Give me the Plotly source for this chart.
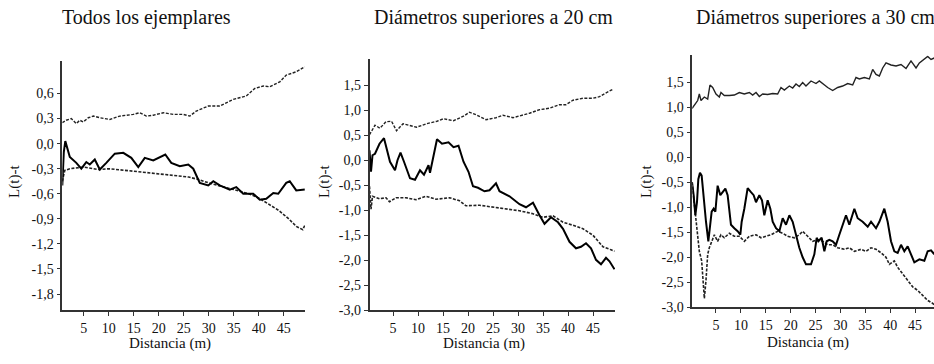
import plotly.graph_objects as go

W, H = 934, 364

titles = ["Todos los ejemplares", "Diámetros superiores a 20 cm", "Diámetros superiores a 30 cm"]
x_title = "Distancia (m)"
y_title = "L(t)-t"
x_ticks = [5, 10, 15, 20, 25, 30, 35, 40, 45]
y_ticks_1 = [0.6, 0.3, 0.0, -0.3, -0.6, -0.9, -1.2, -1.5, -1.8]
y_ticks_23 = [1.5, 1.0, 0.5, 0.0, -0.5, -1.0, -1.5, -2.0, -2.5, -3.0]

# Panel 1: all trees
p1_obs_x = [0.7, 1.0, 1.3, 2.2, 3.5, 4.5, 5.5, 6.2, 7.2, 8.2, 9.5, 11.2, 12.9, 14.5, 15.9, 17.2, 18.9, 21.3, 22.5, 24.2,
            25.9, 26.9, 28.2, 29.9, 30.9, 32.2, 34.2, 35.5, 36.9, 38.9, 40.2, 41.5, 42.9, 43.9, 45.5, 46.2, 47.5, 49.2]
p1_obs_y = [-0.5, -0.1, 0.03, -0.16, -0.23, -0.3, -0.22, -0.25, -0.19, -0.31, -0.23, -0.12, -0.11, -0.17, -0.28, -0.17, -0.2, -0.13, -0.23, -0.27,
            -0.25, -0.3, -0.47, -0.5, -0.45, -0.5, -0.55, -0.52, -0.6, -0.6, -0.67, -0.66, -0.59, -0.6, -0.47, -0.45, -0.56, -0.55]
p1_up_x = [0.7, 1.5, 2.5, 3.5, 4.2, 4.9, 5.9, 6.9, 8.2, 10.2, 12.2, 14.9, 16.2, 17.5, 18.9, 20.9, 22.9, 24.9, 26.2, 27.5,
           29.9, 32.2, 34.9, 37.5, 39.2, 40.9, 42.2, 44.2, 45.5, 47.5, 49.2]
p1_up_y = [0.25, 0.28, 0.3, 0.24, 0.28, 0.26, 0.31, 0.33, 0.31, 0.29, 0.33, 0.35, 0.37, 0.33, 0.34, 0.37, 0.35, 0.35, 0.33, 0.39,
           0.45, 0.45, 0.53, 0.57, 0.66, 0.69, 0.68, 0.74, 0.82, 0.86, 0.92]
p1_lo_x = [0.7, 1.2, 2.2, 5, 8, 10, 15, 20, 22, 26, 28, 30, 35, 38, 40, 42, 44, 46, 47.5, 48.8, 49.2]
p1_lo_y = [-0.45, -0.32, -0.3, -0.28, -0.31, -0.3, -0.33, -0.36, -0.38, -0.4, -0.43, -0.47, -0.55, -0.6, -0.65, -0.72, -0.8, -0.9, -0.99, -1.03, -0.98]

# Panel 2: diameters > 20 cm
p2_obs_x = [0.3, 0.6, 0.9, 1.4, 2.3, 3.2, 4.4, 5.4, 5.9, 6.5, 7.2, 8.4, 9.4, 10.4, 11.2, 12.1, 12.4, 13.8, 14.8, 16.1,
            17.1, 18.1, 19.1, 20.1, 21.0, 22.0, 23.3, 24.3, 25.6, 26.3, 28.3, 30.3, 31.6, 33.0, 34.3, 35.3, 36.6, 38.0, 39.0, 40.3,
            41.6, 42.6, 43.6, 44.6, 45.6, 46.6, 47.6, 48.3, 49.3]
p2_obs_y = [0.2, -0.23, 0.1, 0.13, 0.33, 0.44, -0.03, -0.2, 0.0, 0.15, -0.03, -0.36, -0.39, -0.2, -0.29, -0.1, -0.25, 0.42, 0.33, 0.36,
            0.26, 0.29, -0.03, -0.23, -0.52, -0.55, -0.62, -0.6, -0.46, -0.62, -0.72, -0.88, -0.94, -0.85, -1.1, -1.27, -1.14, -1.24, -1.37, -1.63,
            -1.76, -1.73, -1.66, -1.76, -1.99, -2.08, -1.95, -2.02, -2.18]
p2_up_x = [0.3, 1.4, 2.4, 3.6, 4.7, 5.7, 7.0, 8.4, 9.7, 11.7, 13.8, 15.1, 17.1, 19.1, 20.3, 21.6, 23.6, 25.6, 27.0, 29.0,
           30.3, 32.3, 34.3, 36.3, 38.3, 39.6, 41.0, 43.0, 45.0, 46.3, 47.3, 49.0]
p2_up_y = [0.51, 0.7, 0.64, 0.77, 0.78, 0.59, 0.73, 0.7, 0.66, 0.73, 0.78, 0.83, 0.79, 0.88, 0.96, 0.91, 0.81, 0.85, 0.9, 0.85,
           0.88, 0.94, 1.01, 1.04, 1.11, 1.11, 1.2, 1.24, 1.24, 1.27, 1.33, 1.42]
p2_lo_x = [0.3, 0.6, 0.9, 2.3, 3.6, 4.3, 5.6, 7.6, 9.6, 11.6, 13.6, 16.3, 18.3, 19.6, 22.3, 25.0, 27.6, 30.3, 33.0, 35.0,
           37.0, 39.0, 41.0, 43.0, 45.0, 47.0, 48.6, 49.3]
p2_lo_y = [-0.52, -0.98, -0.72, -0.77, -0.75, -0.83, -0.75, -0.75, -0.79, -0.72, -0.78, -0.75, -0.81, -0.91, -0.9, -0.94, -0.98, -1.01, -1.07, -1.14,
           -1.11, -1.24, -1.3, -1.37, -1.5, -1.73, -1.79, -1.82]

# Panel 3: diameters > 30 cm
p3_obs_x = [0.18, 0.51, 0.85, 1.18, 1.45, 1.78, 2.12, 2.52, 2.99, 3.46, 3.79, 4.13, 4.53, 4.87, 5.33, 5.87, 6.34, 6.88, 7.34, 8.01,
            8.68, 9.35, 9.89, 10.16, 10.69, 11.36, 12.03, 12.57, 13.04, 13.71, 14.24, 14.71, 15.38, 15.92, 16.39, 17.06, 17.73, 18.4, 19.07, 19.74,
            20.41, 21.07, 21.74, 22.41, 23.08, 24.09, 24.76, 25.23, 25.56, 26.23, 26.77, 27.24, 27.77, 28.44, 29.11, 29.78, 30.45, 31.12, 31.79, 32.8,
            33.47, 34.47, 35.48, 36.15, 37.15, 37.82, 38.82, 39.49, 40.16, 40.83, 41.5, 42.17, 42.84, 43.51, 44.18, 44.85, 45.86, 46.86, 47.53, 48.2,
            48.87]
p3_obs_y = [-0.5, -0.76, -1.16, -0.9, -0.44, -0.31, -0.37, -0.83, -1.29, -1.68, -1.42, -1.09, -1.03, -1.09, -0.57, -0.76, -0.7, -0.63, -0.76, -1.35,
            -1.42, -1.48, -1.55, -1.29, -1.03, -0.62, -0.7, -0.76, -0.9, -0.76, -0.86, -1.16, -0.86, -1.03, -1.29, -1.42, -1.48, -1.22, -1.35, -1.16,
            -1.29, -1.55, -1.81, -2.0, -2.14, -2.14, -1.94, -1.61, -1.68, -1.61, -1.88, -1.68, -1.65, -1.68, -1.75, -1.55, -1.35, -1.16, -1.35, -1.03,
            -1.22, -1.29, -1.39, -1.29, -1.42, -1.29, -1.03, -1.29, -1.68, -1.88, -1.91, -1.75, -1.88, -1.78, -1.94, -2.1, -2.04, -2.07, -1.88, -1.86,
            -1.94]
p3_up_x = [0.18, 0.65, 1.32, 1.65, 1.99, 2.66, 3.33, 3.79, 4.33, 5.0, 5.67, 6.0, 6.67, 7.68, 8.68, 9.69, 10.69, 11.7, 12.37, 13.04,
           13.71, 14.38, 15.38, 16.39, 17.39, 18.06, 18.73, 19.74, 20.41, 21.07, 21.74, 22.41, 23.08, 24.09, 25.09, 25.76, 26.77, 27.44, 28.44, 29.45,
           30.45, 31.46, 32.46, 33.13, 33.8, 34.81, 35.81, 36.48, 37.15, 37.82, 38.49, 39.16, 40.16, 41.17, 42.17, 43.18, 44.18, 45.19, 45.86, 46.86,
           47.53, 48.2, 48.87]
p3_up_y = [0.97, 1.03, 1.13, 1.26, 1.13, 1.2, 1.16, 1.44, 1.39, 1.26, 1.2, 1.29, 1.23, 1.23, 1.24, 1.29, 1.26, 1.29, 1.24, 1.29,
           1.21, 1.26, 1.25, 1.27, 1.26, 1.39, 1.34, 1.42, 1.38, 1.46, 1.41, 1.49, 1.42, 1.52, 1.47, 1.52, 1.44, 1.39, 1.33, 1.39,
           1.42, 1.47, 1.44, 1.59, 1.56, 1.59, 1.56, 1.75, 1.65, 1.62, 1.78, 1.88, 1.84, 1.82, 1.85, 1.77, 1.92, 1.78, 1.88, 1.95,
           2.01, 1.95, 1.98]
p3_lo_x = [0.18, 0.65, 1.18, 1.65, 2.12, 2.45, 2.66, 2.99, 3.33, 3.66, 4.0, 4.67, 5.33, 6.0, 6.67, 7.68, 8.68, 9.69, 10.69, 11.7,
           13.04, 14.04, 15.05, 16.05, 17.39, 18.4, 19.4, 20.74, 21.74, 22.41, 23.42, 24.42, 25.43, 26.43, 27.44, 28.44, 29.45, 30.79, 31.79, 32.8,
           34.14, 35.14, 36.15, 37.15, 38.15, 39.16, 39.83, 40.83, 41.5, 42.51, 43.51, 44.52, 45.52, 46.53, 47.53, 48.54, 48.87]
p3_lo_y = [-0.5, -0.9, -1.42, -1.88, -2.07, -2.53, -2.82, -2.46, -1.94, -1.81, -1.71, -1.55, -1.68, -1.55, -1.61, -1.52, -1.58, -1.58, -1.68, -1.58,
           -1.55, -1.61, -1.58, -1.55, -1.48, -1.52, -1.58, -1.61, -1.55, -1.48, -1.58, -1.68, -1.65, -1.68, -1.75, -1.75, -1.81, -1.84, -1.81, -1.88,
           -1.84, -1.88, -1.81, -1.84, -1.91, -2.0, -2.14, -2.07, -2.2, -2.33, -2.46, -2.59, -2.66, -2.76, -2.86, -2.92, -2.95]

FONT = "Liberation Serif, Times New Roman, serif"
INK = "#111111"


def fmt(v):
    return f"{v:.1f}".replace(".", ",")


def px(x):
    return x / W


def py(y):
    return 1 - y / H


# layout geometry in pixels (left, right, top, bottom)
panels = [
    dict(l=62.3, r=305.0, t=62.3, b=317.3, xr=[0.7, 49.25], yr=[-1.995, 0.99], yt=y_ticks_1),
    dict(l=369.5, r=615.0, t=60.0, b=317.3, xr=[0.3, 49.4], yr=[-3.0, 2.03], yt=y_ticks_23),
    dict(l=692.3, r=934.0, t=56.7, b=314.3, xr=[0.24, 48.8], yr=[-3.0, 2.03], yt=y_ticks_23),
]

series = [
    (p1_obs_x, p1_obs_y, p1_up_x, p1_up_y, p1_lo_x, p1_lo_y),
    (p2_obs_x, p2_obs_y, p2_up_x, p2_up_y, p2_lo_x, p2_lo_y),
    (p3_obs_x, p3_obs_y, p3_up_x, p3_up_y, p3_lo_x, p3_lo_y),
]

fig = go.Figure()
layout = dict(
    width=W, height=H, margin=dict(l=0, r=0, t=0, b=0),
    paper_bgcolor="white", plot_bgcolor="white", showlegend=False,
    font=dict(family=FONT, size=14, color=INK),
)

annotations = []
for i, (p, s) in enumerate(zip(panels, series)):
    n = "" if i == 0 else str(i + 1)
    ox, oy, ux, uy, lx, ly = s
    up_dash = "solid" if i == 2 else "3px,1.5px"
    fig.add_trace(go.Scatter(x=ux, y=uy, mode="lines", xaxis="x" + n, yaxis="y" + n,
                             line=dict(color="#222", width=1.4, dash=up_dash)))
    fig.add_trace(go.Scatter(x=lx, y=ly, mode="lines", xaxis="x" + n, yaxis="y" + n,
                             line=dict(color="#222", width=1.6, dash="3px,1.5px")))
    fig.add_trace(go.Scatter(x=ox, y=oy, mode="lines", xaxis="x" + n, yaxis="y" + n,
                             line=dict(color="#000", width=2.0)))
    axcommon = dict(showgrid=False, zeroline=False, showline=True, linecolor="#333", linewidth=1.5,
                    ticks="outside", ticklen=4, tickwidth=1, tickcolor="#333",
                    tickfont=dict(family=FONT, size=14, color=INK))
    layout["xaxis" + n] = dict(axcommon, domain=[px(p["l"]), min(1.0, px(p["r"]))], range=p["xr"],
                               anchor="y" + n, tickvals=x_ticks, ticktext=[str(v) for v in x_ticks])
    layout["yaxis" + n] = dict(axcommon, domain=[py(p["b"]), py(p["t"])], range=p["yr"],
                               anchor="x" + n, tickvals=p["yt"], ticktext=[fmt(v) for v in p["yt"]])

# panel titles
title_pos = [(146, 18), (493, 18), (815, 18)]
for t, (x, y) in zip(titles, title_pos):
    annotations.append(dict(text=t, x=px(x), y=py(y), xref="paper", yref="paper", showarrow=False,
                            xanchor="center", yanchor="middle", font=dict(family=FONT, size=20, color=INK)))
# x axis titles
for x, y in [(170, 351), (484, 351), (808, 350)]:
    annotations.append(dict(text=x_title, x=px(x), y=py(y), xref="paper", yref="paper", showarrow=False,
                            xanchor="center", yanchor="middle", font=dict(family=FONT, size=15, color=INK)))
# y axis titles
for x, y in [(15, 186), (325, 186), (647, 186)]:
    annotations.append(dict(text=y_title, x=px(x), y=py(y), xref="paper", yref="paper", showarrow=False,
                            xanchor="center", yanchor="middle", textangle=-90,
                            font=dict(family=FONT, size=15, color=INK)))

layout["annotations"] = annotations
fig.update_layout(**layout)
fig.write_html("out.html")
